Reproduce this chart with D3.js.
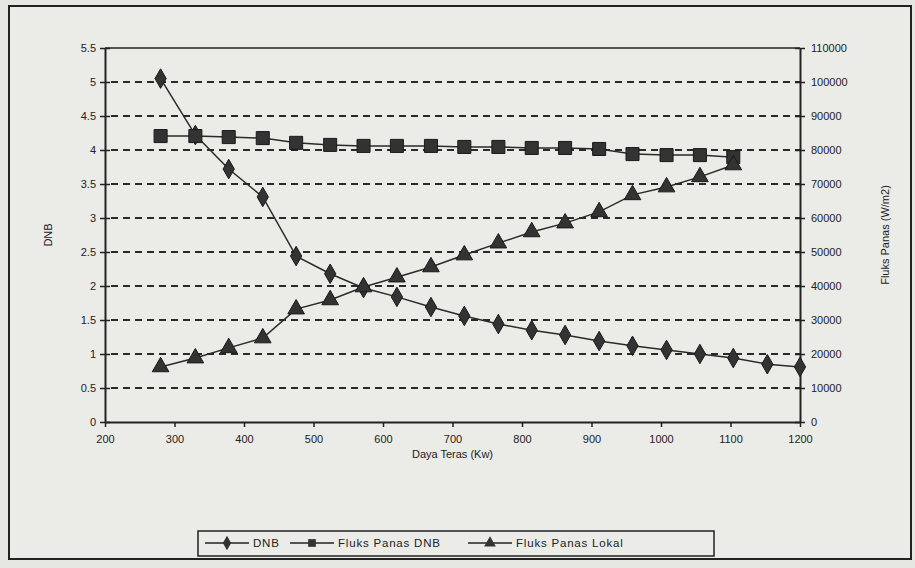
<!DOCTYPE html>
<html>
<head>
<meta charset="utf-8">
<script src="https://cdn.jsdelivr.net/npm/d3@7"></script>
<style>
  body { margin: 0; background: #e6e6e2; }
  text { font-family: "Liberation Sans", Arial, sans-serif; fill: #222; }
</style>
</head>
<body>
<div id="chart"></div>
<script>
// power (kW)
const daya = [280, 330, 378, 427, 475, 524, 572, 620, 669, 717, 766, 814, 862, 911, 959, 1008, 1056, 1104, 1153, 1200];
// DNB ratio, left axis
const dnb = [5.05, 4.22, 3.72, 3.31, 2.44, 2.18, 1.97, 1.84, 1.69, 1.56, 1.44, 1.35, 1.28, 1.19, 1.12, 1.06, 1.0, 0.94, 0.85, 0.81];
// heat flux DNB (W/m2), right axis
const fluksDnb = [84100, 84100, 83800, 83500, 82100, 81500, 81200, 81200, 81200, 80900, 80900, 80600, 80600, 80300, 78800, 78500, 78500, 77900];
// local heat flux (W/m2), right axis
const fluksLokal = [16200, 18800, 21800, 24700, 33200, 35900, 39700, 42600, 45600, 49100, 52600, 55900, 58500, 61800, 66800, 69100, 72100, 75600];

const leftTicks = [0, 0.5, 1, 1.5, 2, 2.5, 3, 3.5, 4, 4.5, 5, 5.5];
const rightTicks = [0, 10000, 20000, 30000, 40000, 50000, 60000, 70000, 80000, 90000, 100000, 110000];
const xTicks = [200, 300, 400, 500, 600, 700, 800, 900, 1000, 1100, 1200];
const names = ['DNB', 'Fluks Panas DNB', 'Fluks Panas Lokal'];

const W = 915, H = 568;
const svg = d3.select('#chart').append('svg')
    .attr('width', W)
    .attr('height', H);

svg.append('rect')
    .attr('width', W).attr('height', H)
    .attr('fill', '#e6e6e2');

// outer frame
svg.append('rect')
    .attr('x', 9).attr('y', 6)
    .attr('width', 902).attr('height', 553)
    .attr('fill', '#ebebe8')
    .attr('stroke', '#222')
    .attr('stroke-width', 2);

const x = d3.scaleLinear().domain([200, 1200]).range([105, 800]);
const yL = d3.scaleLinear().domain([0, 5.5]).range([422, 48]);
const yR = d3.scaleLinear().domain([0, 110000]).range([422, 48]);

// dashed grid lines
svg.append('g')
  .selectAll('line')
  .data(leftTicks.filter(d => d > 0 && d < 5.5))
  .join('line')
    .attr('x1', x(200) + 6)
    .attr('x2', x(1200))
    .attr('y1', d => yL(d))
    .attr('y2', d => yL(d))
    .attr('stroke', '#2a2a2a')
    .attr('stroke-width', 2)
    .attr('stroke-dasharray', '7,5');

// top border of plot
svg.append('line')
    .attr('x1', x(200)).attr('x2', x(1200))
    .attr('y1', yL(5.5)).attr('y2', yL(5.5))
    .attr('stroke', '#222').attr('stroke-width', 1.5);

function styleAxis(g) {
  g.selectAll('.domain').attr('stroke', '#222').attr('stroke-width', 2);
  g.selectAll('.tick line').attr('stroke', '#222').attr('stroke-width', 1.5);
  g.selectAll('.tick text')
      .attr('font-size', '11px')
      .attr('font-family', '"Liberation Sans", Arial, sans-serif')
      .attr('fill', '#222');
}

svg.append('g')
    .attr('transform', `translate(${x(200)},0)`)
    .call(d3.axisLeft(yL).tickValues(leftTicks).tickFormat(d3.format('~g')).tickSize(5).tickPadding(4).tickSizeOuter(0))
    .call(styleAxis)
    .selectAll('.tick line').attr('x1', 5);

svg.append('g')
    .attr('transform', `translate(${x(1200)},0)`)
    .call(d3.axisRight(yR).tickValues(rightTicks).tickFormat(d3.format('d')).tickSize(5).tickPadding(6).tickSizeOuter(0))
    .call(styleAxis)
    .selectAll('.tick line').attr('x1', -5);

svg.append('g')
    .attr('transform', `translate(0,${yL(0)})`)
    .call(d3.axisBottom(x).tickValues(xTicks).tickFormat(d3.format('d')).tickSize(5).tickPadding(8).tickSizeOuter(0))
    .call(styleAxis);

// axis titles
svg.append('text')
    .attr('transform', `translate(52,${yL(2.75)}) rotate(-90)`)
    .attr('text-anchor', 'middle')
    .attr('font-size', '11px')
    .text('DNB');

svg.append('text')
    .attr('transform', `translate(889,${yL(2.75)}) rotate(-90)`)
    .attr('text-anchor', 'middle')
    .attr('font-size', '11px')
    .text('Fluks Panas (W/m2)');

svg.append('text')
    .attr('x', x(700))
    .attr('y', 458)
    .attr('text-anchor', 'middle')
    .attr('font-size', '11px')
    .text('Daya Teras (Kw)');

// series
const diamond = d3.symbol().type(d3.symbolDiamond).size(110);
const square = d3.symbol().type(d3.symbolSquare).size(170);
const triangle = d3.symbol().type(d3.symbolTriangle).size(120);
const ink = '#333';

const series = [
  { vals: dnb, y: yL, sym: diamond },
  { vals: fluksDnb, y: yR, sym: square },
  { vals: fluksLokal, y: yR, sym: triangle }
];

series.forEach(s => {
  const pts = s.vals.map((v, i) => [daya[i], v]);
  svg.append('path')
      .datum(pts)
      .attr('fill', 'none')
      .attr('stroke', '#2a2a2a')
      .attr('stroke-width', 1.5)
      .attr('d', d3.line().x(d => x(d[0])).y(d => s.y(d[1])));
  svg.append('g')
    .selectAll('path')
    .data(pts)
    .join('path')
      .attr('transform', d => `translate(${x(d[0])},${s.y(d[1])})`)
      .attr('d', s.sym)
      .attr('fill', ink)
      .attr('stroke', '#1a1a1a')
      .attr('stroke-width', 1);
});

// legend
const leg = svg.append('g');
leg.append('rect')
    .attr('x', 198).attr('y', 531)
    .attr('width', 516).attr('height', 25)
    .attr('fill', 'none')
    .attr('stroke', '#222')
    .attr('stroke-width', 1.5);

const legX = [205, 290, 468];
const legSym = [
  d3.symbol().type(d3.symbolDiamond).size(60),
  d3.symbol().type(d3.symbolSquare).size(60),
  d3.symbol().type(d3.symbolTriangle).size(60)
];
names.forEach((n, i) => {
  const g = leg.append('g').attr('transform', `translate(${legX[i]},543)`);
  g.append('line')
      .attr('x1', 0).attr('x2', 44)
      .attr('stroke', '#222').attr('stroke-width', 1.5);
  g.append('path')
      .attr('transform', 'translate(22,0)')
      .attr('d', legSym[i])
      .attr('fill', ink);
  g.append('text')
      .attr('x', 48)
      .attr('y', 4)
      .attr('font-size', '11.5px')
      .attr('letter-spacing', '0.8px')
      .text(n);
});
</script>
</body>
</html>
